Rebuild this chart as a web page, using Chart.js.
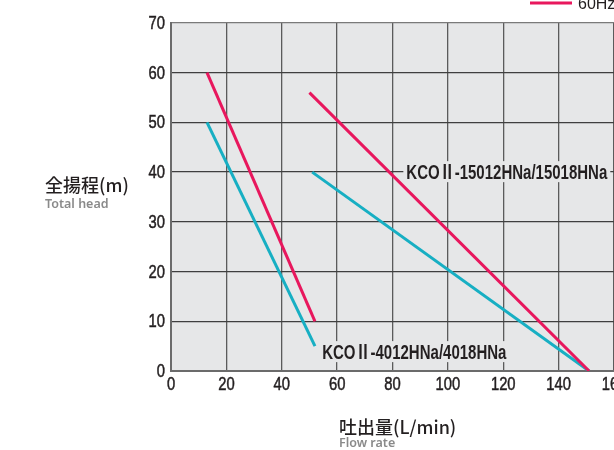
<!DOCTYPE html>
<html lang="ja">
<head>
<meta charset="UTF-8">
<title>KCOⅡ 揚程曲線</title>
<script src="https://cdn.jsdelivr.net/npm/chart.js"></script>
<style>
  html, body { margin: 0; padding: 0; background: #fff; }
  #wrap { width: 614px; height: 450px; position: relative; }
</style>
</head>
<body>
<div id="wrap"><canvas id="curveChart"></canvas></div>
<script>
// flow rate (L/min) -> total head (m)
const flow4012_60 = [13, 52];
const head4012_60 = [60, 10];
const flow4012_50 = [13, 52];
const head4012_50 = [50, 5];
const flow15012_60 = [50, 151];
const head15012_60 = [56, 0];
const flow15012_50 = [51, 151];
const head15012_50 = [40, 0];

const xTicks = [0, 20, 40, 60, 80, 100, 120, 140, 160];
const yTicks = [0, 10, 20, 30, 40, 50, 60, 70];

// model labels: text, anchored at (flow, head)
const modelLabels = [
  { text: "KCOⅡ-15012HNa/15018HNa", x: 85, y: 40 },
  { text: "KCOⅡ-4012HNa/4018HNa", x: 54.6, y: 3.8 }
];

const PINK = "#e8175d";
const CYAN = "#17afc3";
const PLOT_BG = "#e6e7e8";
const INK = "#231f20";
const SANS = "'Liberation Sans', 'Noto Sans CJK JP', Arial, sans-serif";

const pts = (xs, ys) => xs.map((x, i) => ({ x: x, y: ys[i] }));

// draws text squeezed horizontally (condensed look)
function narrowText(ctx, text, x, y, sx, stroke) {
  ctx.save();
  ctx.translate(x, y);
  ctx.scale(sx, 1);
  ctx.fillText(text, 0, 0);
  if (stroke) {
    ctx.strokeStyle = ctx.fillStyle;
    ctx.lineWidth = stroke;
    ctx.strokeText(text, 0, 0);
  }
  ctx.restore();
}

const chartDecor = {
  id: "chartDecor",
  beforeDraw(chart) {
    const { ctx, chartArea: a } = chart;
    ctx.save();
    ctx.fillStyle = PLOT_BG;
    ctx.fillRect(a.left, a.top, a.right - a.left, a.bottom - a.top);
    ctx.restore();
  },
  beforeDatasetsDraw(chart) {
    const { ctx, scales } = chart;
    ctx.save();
    // model labels with a backing box over the grid
    ctx.font = "bold 20px " + SANS;
    ctx.textBaseline = "middle";
    ctx.textAlign = "left";
    const sx = 0.75;
    modelLabels.forEach(l => {
      const px = scales.x.getPixelForValue(l.x);
      const py = scales.y.getPixelForValue(l.y);
      const w = ctx.measureText(l.text).width * sx;
      ctx.fillStyle = PLOT_BG;
      ctx.fillRect(px - 3, py - 11, w + 6, 21);
      ctx.fillStyle = INK;
      narrowText(ctx, l.text, px, py + 1, sx);
    });
    ctx.restore();
  },
  afterDatasetsDraw(chart) {
    const { ctx, chartArea: a, scales } = chart;
    ctx.save();

    // tick labels
    ctx.fillStyle = INK;
    ctx.font = "18px " + SANS;
    ctx.textAlign = "right";
    ctx.textBaseline = "middle";
    scales.y.ticks.forEach(t => {
      narrowText(ctx, String(t.value), a.left - 6, scales.y.getPixelForValue(t.value) + 1, 0.82, 0.5);
    });
    ctx.textAlign = "center";
    ctx.textBaseline = "top";
    scales.x.ticks.forEach(t => {
      narrowText(ctx, String(t.value), scales.x.getPixelForValue(t.value), a.bottom + 5, 0.82, 0.5);
    });

    // 60Hz legend entry
    ctx.strokeStyle = PINK;
    ctx.lineWidth = 3;
    ctx.beginPath();
    ctx.moveTo(530, a.top - 20);
    ctx.lineTo(572, a.top - 20);
    ctx.stroke();
    ctx.textAlign = "left";
    ctx.textBaseline = "alphabetic";
    ctx.font = "16px " + SANS;
    ctx.fillText("60Hz", 578, a.top - 14);

    // axis titles
    ctx.textBaseline = "middle";
    ctx.fillStyle = INK;
    ctx.font = "500 18px 'Noto Sans CJK JP', sans-serif";
    ctx.fillText("全揚程(m)", 45, 185);
    ctx.fillText("吐出量(L/min)", 339, 427);
    ctx.fillStyle = "#8a8a8a";
    ctx.font = "600 12.5px 'Noto Sans', sans-serif";
    ctx.fillText("Total head", 45, 204);
    ctx.fillText("Flow rate", 339, 443);
    ctx.restore();
  }
};

const lineDs = (label, data, color) => ({
  label: label,
  data: data,
  borderColor: color,
  backgroundColor: color,
  borderWidth: 3,
  pointRadius: 0,
  showLine: true,
  fill: false,
  tension: 0
});

new Chart(document.getElementById("curveChart"), {
  type: "scatter",
  data: {
    datasets: [
      lineDs("4012 60Hz", pts(flow4012_60, head4012_60), PINK),
      lineDs("4012 50Hz", pts(flow4012_50, head4012_50), CYAN),
      lineDs("15012 60Hz", pts(flow15012_60, head15012_60), PINK),
      lineDs("15012 50Hz", pts(flow15012_50, head15012_50), CYAN)
    ]
  },
  options: {
    responsive: true,
    maintainAspectRatio: false,
    animation: false,
    layout: { padding: { top: 23, right: 0, left: 0, bottom: 0 } },
    plugins: { legend: { display: false }, tooltip: { enabled: false } },
    scales: {
      x: {
        type: "linear",
        min: 0, max: 160,
        afterBuildTicks: s => { s.ticks = xTicks.map(v => ({ value: v })); },
        afterFit: s => { s.height = 79; s.paddingLeft = 0; s.paddingRight = 0; },
        grid: { color: "#5b5b5b", lineWidth: 1.3, drawTicks: false },
        border: { color: "#6b6b6b", width: 2 },
        ticks: { display: false }
      },
      y: {
        type: "linear",
        min: 0, max: 70,
        afterBuildTicks: s => { s.ticks = yTicks.map(v => ({ value: v })); },
        afterFit: s => { s.width = 171; s.paddingTop = 0; s.paddingBottom = 0; },
        grid: { color: ctx => ctx.tick && ctx.tick.value === 70 ? "#7a7a7a" : "#3f3f3f", lineWidth: 1.3, drawTicks: false },
        border: { color: "#6b6b6b", width: 2 },
        ticks: { display: false }
      }
    }
  },
  plugins: [chartDecor]
});
</script>
</body>
</html>
